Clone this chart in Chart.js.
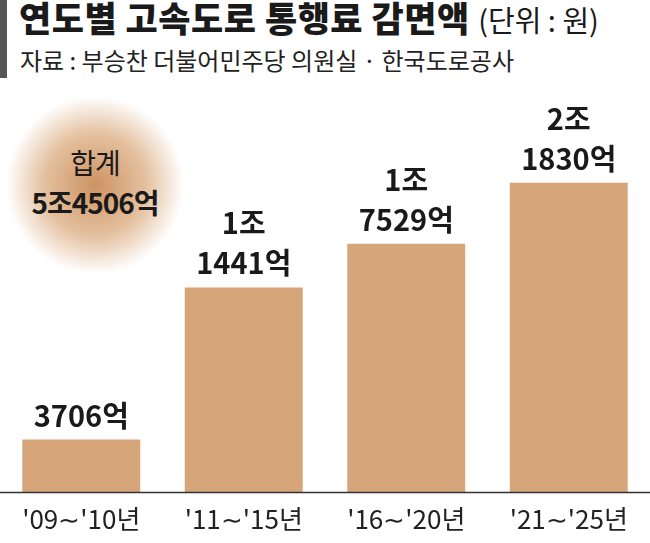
<!DOCTYPE html>
<html><head><meta charset="utf-8">
<script src="https://cdn.jsdelivr.net/npm/chart.js@4"></script>
<style>
body{margin:0;width:650px;height:543px;background:#fff;font-family:"Noto Sans CJK KR",sans-serif;position:relative;overflow:hidden}
#bar{position:absolute;left:0;top:0;width:7px;height:78px;background:#555}
#title{position:absolute;left:19px;top:-9px;font-size:35px;font-weight:900;color:#1a1a1a;letter-spacing:0.5px;white-space:nowrap}
#title span{font-weight:400;font-size:29px;letter-spacing:0}
#sub{position:absolute;left:20px;top:42px;font-size:24px;color:#222;letter-spacing:0;white-space:nowrap}
#glow{position:absolute;left:5px;top:95px;width:180px;height:180px;border-radius:50%;background:radial-gradient(circle,rgba(196,128,70,0.85) 0%,rgba(210,150,95,0.6) 40%,rgba(230,190,150,0) 70%)}
#sum{position:absolute;left:0;top:142px;width:190px;text-align:center;font-size:28px;color:#1a1a1a;line-height:40px;letter-spacing:-1px}
#sum b{font-weight:700}
canvas{position:absolute;left:0;top:0}
</style></head><body>
<div id="bar"></div>
<div id="title">연도별 고속도로 통행료 감면액 <span>(단위 : 원)</span></div>
<div id="sub">자료 : 부승찬 더불어민주당 의원실 · 한국도로공사</div>
<div id="glow"></div>
<div id="sum">합계<br><b>5조4506억</b></div>
<canvas id="c" width="650" height="543"></canvas>
<script>
const categories = ["'09∼'10년", "'11∼'15년", "'16∼'20년", "'21∼'25년"];
const values = [3706, 14441, 17529, 21830];
const labelLines = [["3706억"], ["1조", "1441억"], ["1조", "7529억"], ["2조", "1830억"]];

const valueLabels = {
  id: 'valueLabels',
  afterDatasetsDraw(chart) {
    const c = chart.ctx;
    const meta = chart.getDatasetMeta(0);
    c.save();
    c.font = '700 29px "Noto Sans CJK KR"';
    c.fillStyle = '#1a1a1a';
    c.textAlign = 'center';
    c.textBaseline = 'middle';
    meta.data.forEach((bar, i) => {
      const lines = labelLines[i];
      lines.forEach((t, j) => {
        const y = bar.y - 24 - (lines.length - 1 - j) * 40;
        c.fillText(t, bar.x, y);
      });
    });
    const area = chart.chartArea;
    c.strokeStyle = '#333';
    c.lineWidth = 1.5;
    c.beginPath();
    c.moveTo(0, area.bottom + 0.5);
    c.lineTo(650, area.bottom + 0.5);
    c.stroke();
    c.restore();
  }
};

new Chart(document.getElementById('c'), {
  type: 'bar',
  data: {
    labels: categories,
    datasets: [{ data: values, backgroundColor: '#d6a67a', barPercentage: 0.726, categoryPercentage: 1 }]
  },
  options: {
    responsive: false,
    animation: false,
    layout: { padding: { top: 67, left: 0, right: 0, bottom: 0 } },
    plugins: { legend: { display: false }, tooltip: { enabled: false } },
    scales: {
      x: {
        grid: { display: false }, border: { display: false },
        ticks: { color: '#222', font: { size: 26, family: 'Noto Sans CJK KR' }, padding: 4 },
        afterFit(s) { s.height = 51; }
      },
      y: { display: false, min: 0, max: 30000 }
    }
  },
  plugins: [valueLabels]
});
</script>
</body></html>
